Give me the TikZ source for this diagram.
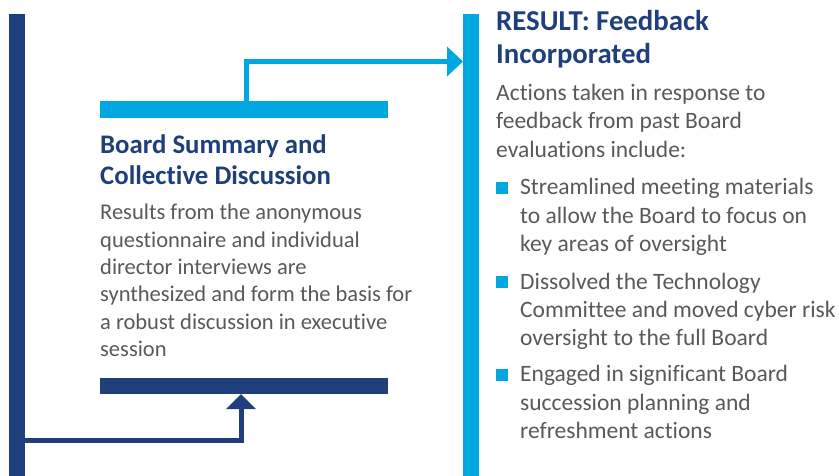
\documentclass[tikz,border=0pt]{standalone}
\usepackage{fontspec}
\setmainfont{Carlito}[Ligatures={NoCommon,NoRequired,NoContextual}]
\usetikzlibrary{arrows.meta}
\definecolor{navy}{HTML}{1F3F7C}
\definecolor{sky}{HTML}{00A7E1}
\definecolor{bodygray}{HTML}{58595B}
\tikzset{
  bar/.style={fill=#1, draw=none, inner sep=0pt, outer sep=0pt, anchor=north west},
  head/.style={anchor=base west, inner sep=0pt, text=navy, font=\fontsize{26.8}{31}\selectfont\bfseries},
  headr/.style={anchor=base west, inner sep=0pt, text=navy, font=\fontsize{28.8}{32.6}\selectfont\bfseries},
  body/.style={anchor=base west, inner sep=0pt, text=bodygray, font=\fontsize{22.5}{27.3}\selectfont},
  bodyr/.style={anchor=base west, inner sep=0pt, text=bodygray, font=\fontsize{23.5}{28.3}\selectfont},
  bsq/.style={fill=sky, draw=none, inner sep=0pt, minimum width=12pt, minimum height=12pt, anchor=north west},
  conn/.style={line width=5pt},
}
\begin{document}
\begin{tikzpicture}[x=1pt, y=-1pt]
\useasboundingbox (0,0) rectangle (839,476);
% bars
\node[bar=navy, minimum width=16pt, minimum height=462pt] (leftbar) at (9,14) {};
\node[bar=sky, minimum width=16pt, minimum height=462pt] (rightbar) at (463,14) {};
\node[bar=sky, minimum width=288pt, minimum height=17pt] (topbar) at (100,101) {};
\node[bar=navy, minimum width=288pt, minimum height=16pt] (botbar) at (100,378) {};
% connectors
\coordinate (ta) at (246,61.5);
\draw[conn, sky, -{Triangle[length=16pt, width=29pt]}] (topbar.north -| ta) |- (ta -| rightbar.west);
\coordinate (ba) at (241,440.5);
\draw[conn, navy, -{Triangle[length=15pt, width=29pt]}] (ba -| leftbar.east) -| (botbar.south -| ba);
% left text
\node[head] (lhead) at (100,153.3) {\begin{tabular}[t]{@{}l@{}}Board Summary and\\Collective Discussion\end{tabular}};
\node[body] (lbody) at (100,220) {\begin{tabular}[t]{@{}l@{}}Results from the anonymous\\questionnaire and individual\\director interviews are\\synthesized and form the basis for\\a robust discussion in executive\\session\end{tabular}};
% right text
\node[headr] (rhead) at (496,30.7) {\begin{tabular}[t]{@{}l@{}}RESULT: Feedback\\Incorporated\end{tabular}};
\node[bodyr] (rbody) at (496,100.7) {\begin{tabular}[t]{@{}l@{}}Actions taken in response to\\feedback from past Board\\evaluations include:\end{tabular}};
\node[bsq] (sq1) at (496,182) {};
\node[bodyr] (b1) at (520,195) {\begin{tabular}[t]{@{}l@{}}Streamlined meeting materials\\to allow the Board to focus on\\key areas of oversight\end{tabular}};
\node[bsq] (sq2) at (496,276) {};
\node[bodyr] (b2) at (520,289.3) {\begin{tabular}[t]{@{}l@{}}Dissolved the Technology\\Committee and moved cyber risk\\oversight to the full Board\end{tabular}};
\node[bsq] (sq3) at (496,368.5) {};
\node[bodyr] (b3) at (520,381.7) {\begin{tabular}[t]{@{}l@{}}Engaged in significant Board\\succession planning and\\refreshment actions\end{tabular}};
\end{tikzpicture}
\end{document}
